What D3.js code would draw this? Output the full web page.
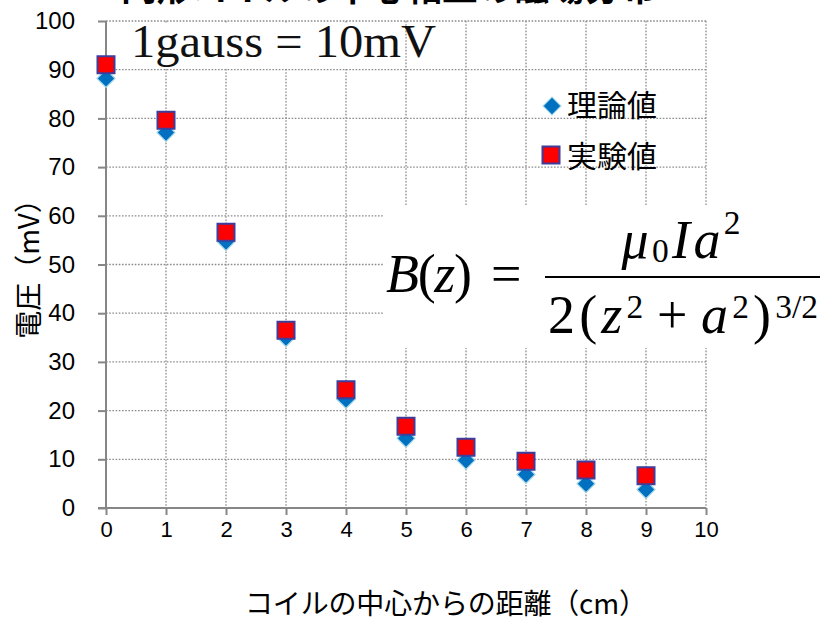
<!DOCTYPE html>
<html>
<head>
<meta charset="utf-8">
<script src="https://cdn.jsdelivr.net/npm/d3@7"></script>
<style>
  html, body { margin: 0; padding: 0; background: #fff; }
  svg { display: block; }
</style>
</head>
<body>
<svg id="chart" width="823" height="620"></svg>
<script>
// Magnetic field along the axis of a circular coil: theory vs. measurement
const distances = [0, 1, 2, 3, 4, 5, 6, 7, 8, 9];                       // cm from coil centre
const theory    = [88.2, 77.1, 54.7, 35.0, 22.3, 14.3, 9.8, 6.9, 5.0, 3.8]; // 理論値 (mV)
const measured  = [91.0, 79.6, 56.6, 36.5, 24.3, 16.8, 12.5, 9.6, 7.8, 6.6]; // 実験値 (mV)
const xTickValues = [0, 1, 2, 3, 4, 5, 6, 7, 8, 9, 10];
const yTickValues = [0, 10, 20, 30, 40, 50, 60, 70, 80, 90, 100];
const seriesNames = ["理論値", "実験値"];
const titleText = "円形コイルの中心軸上の磁場分布";
const xTitle = "コイルの中心からの距離（cm）";
const yTitle = "電圧（mV）";

const svg = d3.select("#chart");
const plot = { left: 106, right: 706, top: 21, bottom: 508 };

const x = d3.scaleLinear().domain([0, 10]).range([plot.left, plot.right]);
const y = d3.scaleLinear().domain([0, 100]).range([plot.bottom, plot.top]);

const AXIS = "#868686";
const GRID = "#8a8a8a";
const CJK = "'Noto Sans CJK JP', 'Noto Sans', sans-serif";
const NUM = "'Liberation Sans', Arial, sans-serif";
const SERIF = "'Liberation Serif', 'DejaVu Serif', serif";

// Title (sits mostly above the top edge)
svg.append("text")
  .attr("x", 121).attr("y", 1)
  .attr("textLength", 535).attr("lengthAdjust", "spacingAndGlyphs")
  .style("font-family", CJK).style("font-weight", "bold").style("font-size", "35px")
  .attr("fill", "#000")
  .text(titleText);

// Dotted gridlines
const grid = svg.append("g").attr("class", "grid")
  .attr("stroke", GRID).attr("stroke-width", 1.3).attr("stroke-dasharray", "1.6,1.6");
grid.selectAll("line.h").data(yTickValues.filter(v => v > 0)).join("line")
  .attr("class", "h")
  .attr("x1", plot.left).attr("x2", plot.right)
  .attr("y1", d => y(d)).attr("y2", d => y(d));
grid.selectAll("line.v").data(xTickValues.filter(v => v > 0)).join("line")
  .attr("class", "v")
  .attr("x1", d => x(d)).attr("x2", d => x(d))
  .attr("y1", plot.top).attr("y2", plot.bottom);

// Annotation panels (white backgrounds hide the grid underneath)
svg.append("rect").attr("x", 108).attr("y", 23).attr("width", 292).attr("height", 45).attr("fill", "#fff");
svg.append("rect").attr("x", 384).attr("y", 206).attr("width", 439).attr("height", 142).attr("fill", "#fff");

svg.append("text")
  .attr("x", 131).attr("y", 57)
  .attr("textLength", 305).attr("lengthAdjust", "spacingAndGlyphs")
  .style("font-family", SERIF).style("font-size", "46px").attr("fill", "#111")
  .text("1gauss = 10mV");

// Formula B(z) = μ0 I a^2 / (2 (z^2 + a^2)^(3/2))
const FS = 54;
const formula = svg.append("g").style("font-family", SERIF).attr("fill", "#000");

function typeset(pieces, left, baseline, targetWidth, anchorCenter) {
  const nodes = pieces.map(p => {
    const t = formula.append("text")
      .style("font-size", (FS * (p.s || 1)) + "px")
      .style("font-style", p.i ? "italic" : "normal")
      .attr("y", baseline + (p.dy || 0) * FS)
      .text(p.t);
    return { node: t, w: t.node().getComputedTextLength(), gap: p.g || 0 };
  });
  const natural = d3.sum(nodes, n => n.w + n.gap * FS);
  const extra = targetWidth ? (targetWidth - natural) / Math.max(1, nodes.length - 1) : 0;
  let cx = anchorCenter ? left - (targetWidth || natural) / 2 : left;
  nodes.forEach(n => {
    cx += n.gap * FS / 2;
    n.node.attr("x", cx);
    cx += n.w + n.gap * FS / 2 + extra;
  });
}

typeset([
  { t: "B", i: true }, { t: "(" }, { t: "z", i: true }, { t: ")" }
], 386, 292, 86, false);
formula.append("text").attr("x", 491).attr("y", 292).style("font-size", FS + "px").text("=");

typeset([
  { t: "μ", i: true },
  { t: "0", s: 0.62, dy: 0.07 },
  { t: "I", i: true },
  { t: "a", i: true },
  { t: "2", s: 0.62, dy: -0.44 }
], 681, 258, 119, true);

formula.append("line")
  .attr("x1", 545).attr("x2", 820).attr("y1", 277).attr("y2", 277)
  .attr("stroke", "#000").attr("stroke-width", 2.2);

typeset([
  { t: "2" }, { t: "(" }, { t: "z", i: true },
  { t: "2", s: 0.62, dy: -0.27 },
  { t: "+", g: 0.35 },
  { t: "a", i: true },
  { t: "2", s: 0.62, dy: -0.27 },
  { t: ")" },
  { t: "3/2", s: 0.62, dy: -0.28 }
], 683, 333, 270, true);

// Axes
const yAxis = d3.axisLeft(y).tickValues(yTickValues).tickSize(8).tickPadding(23).tickFormat(d3.format("d"));
const gy = svg.append("g").attr("transform", `translate(${plot.left},0)`).call(yAxis);
gy.select(".domain").attr("stroke", AXIS).attr("stroke-width", 2).attr("d", `M0,${plot.top}V${plot.bottom}`);
gy.selectAll(".tick line").attr("stroke", AXIS).attr("stroke-width", 2);
gy.selectAll(".tick text").attr("fill", "#000").style("font-family", NUM).style("font-size", "24px");

const xAxis = d3.axisBottom(x).tickValues(xTickValues).tickSize(7).tickPadding(6).tickFormat(d3.format("d"));
const gx = svg.append("g").attr("transform", `translate(0,${plot.bottom})`).call(xAxis);
gx.select(".domain").attr("stroke", AXIS).attr("stroke-width", 2).attr("d", `M${plot.left - 8},0H${plot.right}`);
gx.selectAll(".tick line").attr("stroke", AXIS).attr("stroke-width", 2);
gx.selectAll(".tick text").attr("fill", "#000").style("font-family", NUM).style("font-size", "22px");

// Axis titles
svg.append("text")
  .attr("transform", "translate(39,262) rotate(-90)")
  .attr("text-anchor", "middle")
  .style("font-family", CJK).style("font-size", "28px").attr("fill", "#000")
  .text(yTitle);

svg.append("text")
  .attr("x", 245).attr("y", 614)
  .attr("textLength", 402).attr("lengthAdjust", "spacing")
  .style("font-family", CJK).style("font-size", "28px").attr("fill", "#000")
  .text(xTitle);

// Markers
const diamond = d3.symbol(d3.symbolSquare, 162);
const square = d3.symbol(d3.symbolSquare, 17 * 17);

svg.append("g").selectAll("path").data(distances.map((d, i) => [d, theory[i]])).join("path")
  .attr("d", diamond)
  .attr("transform", d => `translate(${x(d[0])},${y(d[1])}) rotate(45)`)
  .attr("fill", "#0070c0").attr("stroke", "#a4d8e6").attr("stroke-width", 1.2);

svg.append("g").selectAll("path").data(distances.map((d, i) => [d, measured[i]])).join("path")
  .attr("d", square)
  .attr("transform", d => `translate(${x(d[0])},${y(d[1])})`)
  .attr("fill", "#ff0000").attr("stroke", "#3d3d9c").attr("stroke-width", 2);

// Legend
const legend = svg.append("g");
legend.append("path").attr("d", diamond).attr("transform", "translate(552,106) rotate(45)")
  .attr("fill", "#0070c0").attr("stroke", "#a4d8e6").attr("stroke-width", 1.2);
legend.append("path").attr("d", square).attr("transform", "translate(551,155)")
  .attr("fill", "#ff0000").attr("stroke", "#3d3d9c").attr("stroke-width", 2);
legend.selectAll("text").data(seriesNames).join("text")
  .attr("x", 567).attr("y", (d, i) => 116 + i * 51)
  .style("font-family", CJK).style("font-size", "30px").attr("fill", "#000")
  .text(d => d);
</script>
</body>
</html>
